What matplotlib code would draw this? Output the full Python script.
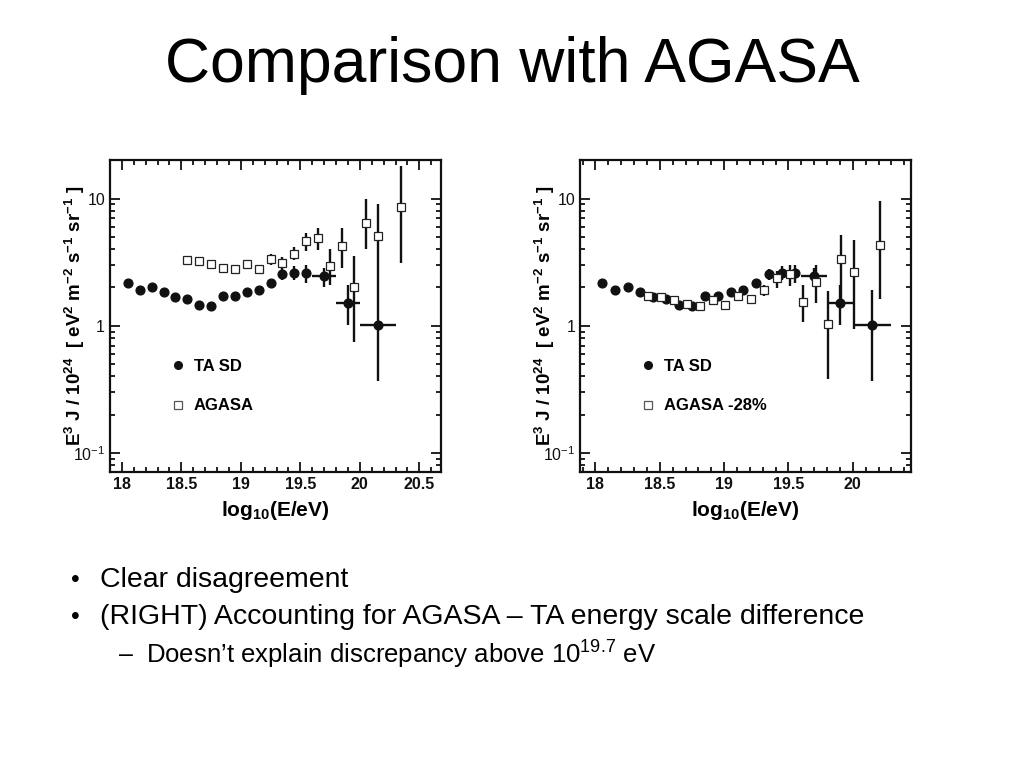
import matplotlib

matplotlib.use("Agg")
import matplotlib.pyplot as plt
import numpy as np
from matplotlib.lines import Line2D
from matplotlib.ticker import FixedLocator, FixedFormatter, LogLocator, MultipleLocator, NullFormatter

plt.rcParams["font.family"] = ["Liberation Sans", "DejaVu Sans"]
plt.rcParams["mathtext.fontset"] = "custom"
plt.rcParams["mathtext.rm"] = "Liberation Sans"
plt.rcParams["mathtext.bf"] = "Liberation Sans:bold"
plt.rcParams["mathtext.it"] = "Liberation Sans:italic"

# ============================================================
# Data
# ============================================================
ta_x = [18.05, 18.15, 18.25, 18.35, 18.45, 18.55, 18.65, 18.75, 18.85, 18.95,
        19.05, 19.15, 19.25, 19.35, 19.45, 19.55, 19.70, 19.90, 20.15]
ta_y = [2.17, 1.92, 2.02, 1.83, 1.69, 1.63, 1.45, 1.44, 1.70, 1.71,
        1.85, 1.90, 2.18, 2.56, 2.61, 2.58, 2.45, 1.51, 1.02]
ta_lo = [2.17, 1.92, 2.02, 1.83, 1.69, 1.63, 1.45, 1.44, 1.70, 1.71,
         1.77, 1.79, 2.02, 2.30, 2.30, 2.17, 2.02, 1.01, 0.37]
ta_hi = [2.17, 1.92, 2.02, 1.83, 1.69, 1.63, 1.45, 1.44, 1.70, 1.71,
         1.93, 2.01, 2.31, 2.77, 2.94, 3.03, 2.85, 2.10, 1.90]
ta_xerr = [0, 0, 0, 0, 0, 0, 0, 0, 0, 0, 0, 0, 0, 0, 0, 0, 0.10, 0.10, 0.15]

agasa_x = [18.55, 18.65, 18.75, 18.85, 18.95, 19.05, 19.15, 19.25, 19.35,
           19.45, 19.55, 19.65, 19.75, 19.85, 19.95, 20.05, 20.15, 20.35]
agasa_y = [3.30, 3.22, 3.07, 2.84, 2.77, 3.05, 2.79, 3.34, 3.11,
           3.65, 4.61, 4.90, 2.96, 4.27, 2.02, 6.38, 5.08, 8.51]
agasa_lo = [3.30, 3.22, 3.07, 2.84, 2.77, 2.92, 2.66, 2.98, 2.80,
            3.26, 3.85, 3.95, 2.08, 2.85, 0.74, 4.02, 1.90, 3.11]
agasa_hi = [3.30, 3.22, 3.07, 2.84, 2.77, 3.18, 2.92, 3.67, 3.46,
            4.14, 5.33, 5.87, 4.00, 5.87, 3.56, 9.88, 9.03, 18.0]

agasa28_x = [18.41, 18.51, 18.61, 18.71, 18.81, 18.91, 19.01, 19.11, 19.21,
             19.31, 19.41, 19.51, 19.61, 19.71, 19.81, 19.91, 20.01, 20.21]
agasa28_y = [1.71, 1.69, 1.59, 1.48, 1.42, 1.59, 1.46, 1.73, 1.61,
             1.90, 2.39, 2.53, 1.53, 2.19, 1.04, 3.32, 2.63, 4.35]
agasa28_lo = [1.71, 1.69, 1.59, 1.48, 1.42, 1.52, 1.39, 1.65, 1.48,
              1.72, 1.99, 2.05, 1.07, 1.51, 0.38, 1.51, 0.95, 1.61]
agasa28_hi = [1.71, 1.69, 1.59, 1.48, 1.42, 1.66, 1.53, 1.81, 1.73,
              2.08, 2.69, 2.98, 2.08, 2.98, 1.88, 5.17, 4.72, 9.48]

x_ticks_left = [18, 18.5, 19, 19.5, 20, 20.5]
x_ticks_right = [18, 18.5, 19, 19.5, 20]
y_ticks = [0.1, 1, 10]
y_tick_labels = [r"$\mathregular{10^{-1}}$", "1", "10"]

BLACK = "#111111"


# ============================================================
# Helpers
# ============================================================
def _yerr(y, lo, hi):
    y = np.array(y)
    return [y - np.array(lo), np.array(hi) - y]


def _panel(axis, agasa, agasa_label, xlim, xticks):
    ax_, ay_, alo_, ahi_ = agasa
    axis.errorbar(ta_x, ta_y, yerr=_yerr(ta_y, ta_lo, ta_hi), xerr=ta_xerr,
                  fmt="o", color=BLACK, ms=6.3, elinewidth=1.7, capsize=0, zorder=3)
    axis.errorbar(ax_, ay_, yerr=_yerr(ay_, alo_, ahi_), fmt="s", color=BLACK,
                  mfc="white", mec="#222222", mew=0.9, ms=6.3, elinewidth=1.7,
                  capsize=0, zorder=4)
    axis.set_yscale("log")
    axis.set_xlim(*xlim)
    axis.set_ylim(0.071, 20)
    axis.xaxis.set_major_locator(FixedLocator(xticks))
    axis.xaxis.set_minor_locator(MultipleLocator(0.1))
    axis.set_xticklabels([f"{t:g}" for t in xticks], fontsize=12, fontweight="bold")
    axis.yaxis.set_major_locator(FixedLocator(y_ticks))
    axis.yaxis.set_major_formatter(FixedFormatter(y_tick_labels))
    axis.yaxis.set_minor_locator(LogLocator(base=10, subs=np.arange(2, 10)))
    axis.yaxis.set_minor_formatter(NullFormatter())
    axis.tick_params(which="both", direction="in", top=True, right=True,
                     width=1.3, colors=BLACK, labelsize=11.5)
    axis.tick_params(which="major", length=7)
    axis.tick_params(which="minor", length=3.5)
    for spine in axis.spines.values():
        spine.set_linewidth(1.6)
        spine.set_color(BLACK)
    axis.set_xlabel(r"$\mathbf{log_{10}(E/eV)}$", fontsize=15, labelpad=5)
    axis.set_ylabel(r"$\mathbf{E^3\ J\ /\ 10^{24}\ \ [\ eV^2\ m^{-2}\ s^{-1}\ sr^{-1}\ ]}$",
                    fontsize=13.5)
    axis.yaxis.set_label_coords(-0.07, 0.5)
    handles = [
        Line2D([], [], ls="none", marker="o", color=BLACK, ms=5.5),
        Line2D([], [], ls="none", marker="s", mfc="white", mec="#555555", mew=0.9, ms=6.3),
    ]
    axis.legend(handles, ["TA SD", agasa_label], loc="upper left",
                bbox_to_anchor=(0.135, 0.41), frameon=False, numpoints=1,
                handlelength=1.0, handletextpad=0.45, labelspacing=1.45,
                prop={"weight": "bold", "size": 12})


# ============================================================
# Figure
# ============================================================
fig = plt.figure(figsize=(10.24, 7.68), dpi=100)

ax_left = fig.add_axes([0.1074, 0.3854, 0.323, 0.406])
ax_right = fig.add_axes([0.5664, 0.3854, 0.323, 0.406])

_panel(ax_left, (agasa_x, agasa_y, agasa_lo, agasa_hi), "AGASA", (17.9, 20.68), x_ticks_left)
_panel(ax_right, (agasa28_x, agasa28_y, agasa28_lo, agasa28_hi), "AGASA -28%",
       (17.88, 20.45), x_ticks_right)

fig.text(0.5, 0.915, "Comparison with AGASA", ha="center", va="center", fontsize=45)

fig.text(0.069, 0.245, "\u2022", ha="left", va="center", fontsize=18)
fig.text(0.0977, 0.245, "Clear disagreement", ha="left", va="center", fontsize=20.5)
fig.text(0.069, 0.196, "\u2022", ha="left", va="center", fontsize=18)
fig.text(0.0977, 0.196, "(RIGHT) Accounting for AGASA \u2013 TA energy scale difference",
         ha="left", va="center", fontsize=20.5)
fig.text(0.116, 0.147, "\u2013", ha="left", va="center", fontsize=18)
fig.text(0.1426, 0.147, r"Doesn\u2019t explain discrepancy above 10$^{\mathregular{19.7}}$ eV".replace(r"\u2019", "\u2019"),
         ha="left", va="center", fontsize=18.5)

fig.savefig("out.png", dpi=100)
